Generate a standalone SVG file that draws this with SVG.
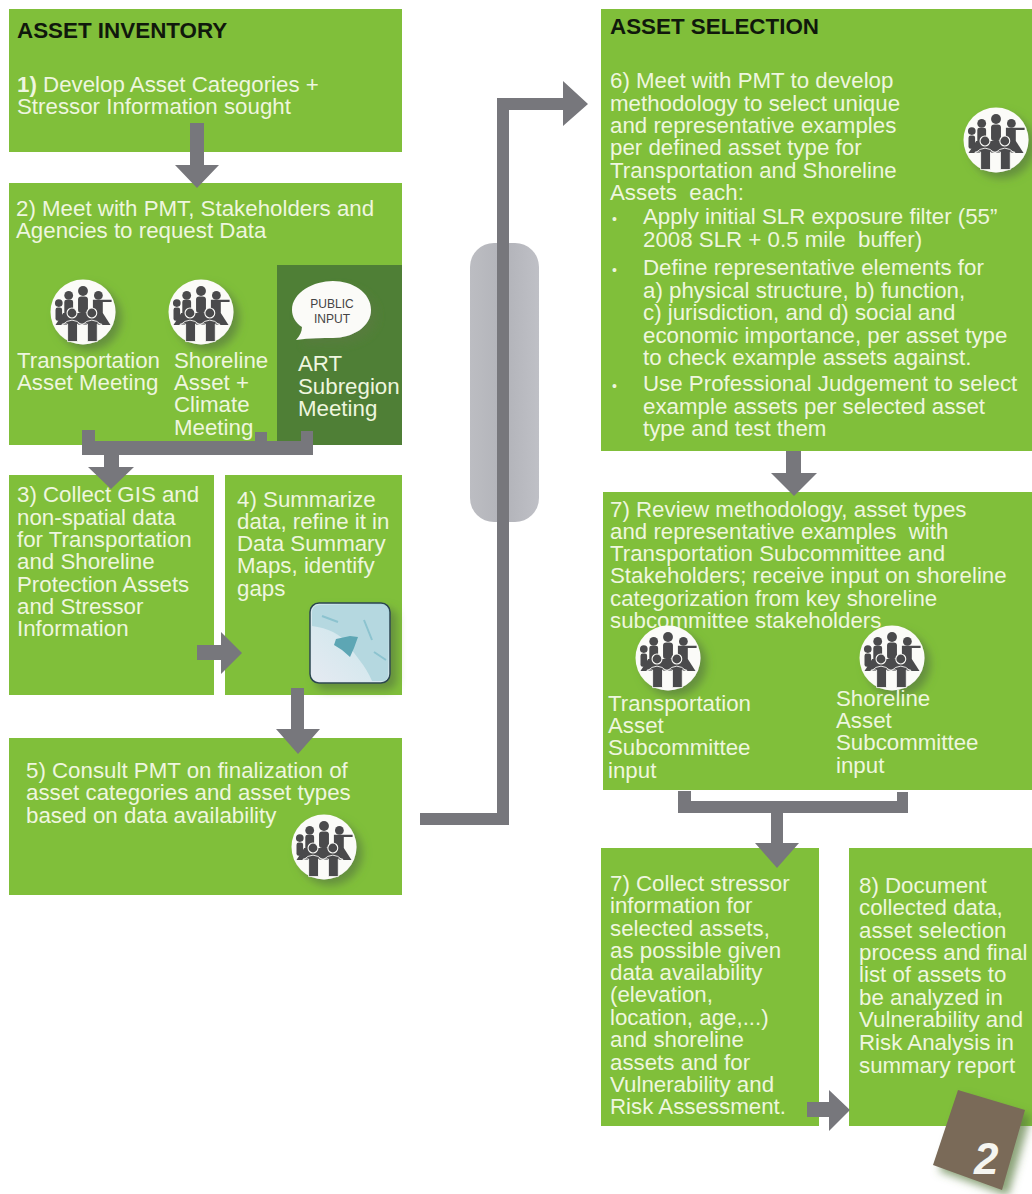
<svg xmlns="http://www.w3.org/2000/svg" xmlns:xlink="http://www.w3.org/1999/xlink" width="1032" height="1194" viewBox="0 0 1032 1194">
<style>
.box{fill:#80bf3a}
.t{font-family:"Liberation Sans",Arial,sans-serif;font-size:22.3px;fill:#eef6df}
.h{font-family:"Liberation Sans",Arial,sans-serif;font-size:22.4px;font-weight:bold;fill:#10180c}
.b{font-size:14px}
.c{fill:#77777c}
.ic{fill:#4a4a4c}
</style>
<defs>
<linearGradient id="pill" x1="0" x2="1" y1="0" y2="0"><stop offset="0" stop-color="#bcbdc2"/><stop offset="0.5" stop-color="#b2b3b9"/><stop offset="1" stop-color="#bfc0c6"/></linearGradient>
<linearGradient id="map" x1="0" x2="1" y1="1" y2="0"><stop offset="0" stop-color="#e6eaf2"/><stop offset="0.45" stop-color="#d6e8ee"/><stop offset="1" stop-color="#a9d2dc"/></linearGradient>
<filter id="sh" x="-40%" y="-40%" width="200%" height="200%"><feGaussianBlur in="SourceAlpha" stdDeviation="4.5"/><feOffset dx="6" dy="6"/><feColorMatrix values="0 0 0 0 0.1 0 0 0 0 0.2 0 0 0 0 0.05 0 0 0 0.7 0"/><feMerge><feMergeNode/><feMergeNode in="SourceGraphic"/></feMerge></filter>
<g id="meet">
<circle r="32.500" fill="#fbfbf8" filter="url(#sh)"/>
<g class="ic" transform="translate(0 1) scale(1.1)">
<circle cx="0" cy="-20" r="4.5"/><rect x="-4.5" y="-15" width="9" height="15" rx="3"/>
<circle cx="-13" cy="-16" r="4"/><rect x="-17" y="-12" width="8" height="14" rx="2"/>
<circle cx="14" cy="-16" r="4"/><path d="M9-12h17v2h-8v14H9z"/>
<circle cx="-22" cy="-9" r="3.500"/><rect x="-25" y="-5" width="6" height="12" rx="2"/>
<path d="M-18 0H18L25 11H-25z"/>
<circle cx="-10" cy="0" r="4.500" stroke="#fbfbf8" stroke-width="1"/><path d="M-19 11Q-10 2-1 11V10H-5V26H-14V10H-19z" stroke="#fbfbf8" stroke-width=".8"/>
<circle cx="8" cy="0" r="4.500" stroke="#fbfbf8" stroke-width="1"/><path d="M-1 11Q8 2 17 11V10H13V26H4V10H-1z" stroke="#fbfbf8" stroke-width=".8"/>
</g>
</g>
</defs>

<g id="n1"><rect class="box" x="9" y="9" width="393" height="143"/>
<text class="h" x="17" y="38">ASSET INVENTORY</text>
<text class="t"><tspan x="17" y="92" font-weight="bold">1)</tspan><tspan> Develop Asset Categories +</tspan><tspan x="17" y="114">Stressor Information sought</tspan></text></g>

<g id="n2"><rect class="box" x="9" y="183" width="393" height="262"/>
<rect x="277" y="265" width="125" height="180" fill="#4f7f36"/>
<text class="t"><tspan x="16" y="216">2) Meet with PMT, Stakeholders and</tspan><tspan x="16" y="238">Agencies to request Data</tspan></text>
<use href="#meet" xlink:href="#meet" x="83" y="312"/>
<use href="#meet" xlink:href="#meet" x="201" y="312"/>
<text class="t"><tspan x="17" y="368">Transportation</tspan><tspan x="17" y="390">Asset Meeting</tspan></text>
<text class="t"><tspan x="174" y="368">Shoreline</tspan><tspan x="174" y="390">Asset +</tspan><tspan x="174" y="412">Climate</tspan><tspan x="174" y="435">Meeting</tspan></text>
<path d="M333 281C352 281 371 292 371 310C371 327 352 338 333 338C322 338 310 338 296 340C300 336 302 331 302 327C296 323 292 317 292 310C292 292 314 281 333 281Z" fill="#fbfbf8" filter="url(#sh)"/>
<text font-family="Liberation Sans,Arial,sans-serif" font-size="12" fill="#444" text-anchor="middle"><tspan x="332" y="308">PUBLIC</tspan><tspan x="332" y="323">INPUT</tspan></text>
<text class="t"><tspan x="298" y="371">ART</tspan><tspan x="298" y="394">Subregion</tspan><tspan x="298" y="416">Meeting</tspan></text></g>

<g id="n3"><rect class="box" x="9" y="475" width="205" height="220"/>
<text class="t"><tspan x="17" y="502">3) Collect GIS and</tspan><tspan x="17" y="525">non-spatial data</tspan><tspan x="17" y="547">for Transportation</tspan><tspan x="17" y="569">and Shoreline</tspan><tspan x="17" y="592">Protection Assets</tspan><tspan x="17" y="614">and Stressor</tspan><tspan x="17" y="636">Information</tspan></text></g>

<g id="n4"><rect class="box" x="225" y="475" width="177" height="220"/>
<text class="t"><tspan x="237" y="507">4) Summarize</tspan><tspan x="237" y="529">data, refine it in</tspan><tspan x="237" y="551">Data Summary</tspan><tspan x="237" y="573">Maps, identify</tspan><tspan x="237" y="596">gaps</tspan></text>
<rect x="310" y="603" width="80" height="80" rx="9" fill="url(#map)" stroke="#2c4650" stroke-width="1.5" filter="url(#sh)"/>
<path d="M312 626C328 628 340 634 348 644C354 654 366 666 372 681H382Q388 681 388 675V611Q388 605 382 605H320Q312 605 312 613Z" fill="#b5d8e0"/>
<path d="M336 639L350 636L358 637L354 648L350 657L342 650L334 645Z" fill="#5da6b4"/>
<path d="M322 616L338 622M364 620L372 640M374 652L386 660" stroke="#8cc3cf" stroke-width="2" fill="none"/></g>

<g id="n5"><rect class="box" x="9" y="738" width="393" height="157"/>
<text class="t"><tspan x="26" y="778">5) Consult PMT on finalization of</tspan><tspan x="26" y="800">asset categories and asset types</tspan><tspan x="26" y="823">based on data availability</tspan></text>
<use href="#meet" xlink:href="#meet" x="324" y="847"/></g>

<g id="n6"><rect class="box" x="601" y="9" width="431" height="442"/>
<text class="h" x="610" y="34">ASSET SELECTION</text>
<text class="t"><tspan x="610" y="88">6) Meet with PMT to develop</tspan><tspan x="610" y="111">methodology to select unique</tspan><tspan x="610" y="133">and representative examples</tspan><tspan x="610" y="155">per defined asset type for</tspan><tspan x="610" y="178">Transportation and Shoreline</tspan><tspan x="610" y="200">Assets&#160; each:</tspan><tspan x="612" y="224" class="b">•</tspan><tspan x="643" y="224">Apply initial SLR exposure filter (55”</tspan><tspan x="643" y="247">2008 SLR + 0.5 mile&#160; buffer)</tspan><tspan x="612" y="275" class="b">•</tspan><tspan x="643" y="275">Define representative elements for</tspan><tspan x="643" y="298">a) physical structure, b) function,</tspan><tspan x="643" y="320">c) jurisdiction, and d) social and</tspan><tspan x="643" y="343">economic importance, per asset type</tspan><tspan x="643" y="365">to check example assets against.</tspan><tspan x="612" y="391" class="b">•</tspan><tspan x="643" y="391">Use Professional Judgement to select</tspan><tspan x="643" y="414">example assets per selected asset</tspan><tspan x="643" y="436">type and test them</tspan></text>
<use href="#meet" xlink:href="#meet" x="996" y="140"/></g>

<g id="n7"><rect class="box" x="603" y="492" width="429" height="298"/>
<text class="t"><tspan x="610" y="517">7) Review methodology, asset types</tspan><tspan x="610" y="539">and representative examples&#160; with</tspan><tspan x="610" y="561">Transportation Subcommittee and</tspan><tspan x="610" y="583">Stakeholders; receive input on shoreline</tspan><tspan x="610" y="606">categorization from key shoreline</tspan><tspan x="610" y="628">subcommittee stakeholders</tspan></text>
<use href="#meet" xlink:href="#meet" x="668" y="658"/>
<use href="#meet" xlink:href="#meet" x="892" y="658"/>
<text class="t"><tspan x="608" y="711">Transportation</tspan><tspan x="608" y="733">Asset</tspan><tspan x="608" y="755">Subcommittee</tspan><tspan x="608" y="778">input</tspan></text>
<text class="t"><tspan x="836" y="706">Shoreline</tspan><tspan x="836" y="728">Asset</tspan><tspan x="836" y="750">Subcommittee</tspan><tspan x="836" y="773">input</tspan></text></g>

<g id="n8"><rect class="box" x="601" y="848" width="218" height="278"/>
<text class="t"><tspan x="610" y="891">7) Collect stressor</tspan><tspan x="610" y="913">information for</tspan><tspan x="610" y="936">selected assets,</tspan><tspan x="610" y="958">as possible given</tspan><tspan x="610" y="980">data availability</tspan><tspan x="610" y="1002">(elevation,</tspan><tspan x="610" y="1025">location, age,...)</tspan><tspan x="610" y="1047">and shoreline</tspan><tspan x="610" y="1070">assets and for</tspan><tspan x="610" y="1092">Vulnerability and</tspan><tspan x="610" y="1114">Risk Assessment.</tspan></text></g>

<g id="n9"><rect class="box" x="849" y="848" width="183" height="278"/>
<text class="t"><tspan x="859" y="893">8) Document</tspan><tspan x="859" y="915">collected data,</tspan><tspan x="859" y="938">asset selection</tspan><tspan x="859" y="960">process and final</tspan><tspan x="859" y="982">list of assets to</tspan><tspan x="859" y="1005">be analyzed in</tspan><tspan x="859" y="1027">Vulnerability and</tspan><tspan x="859" y="1050">Risk Analysis in</tspan><tspan x="859" y="1073">summary report</tspan></text></g>

<g id="badge"><path d="M958 1090L1025 1110L1002 1190L933 1165Z" fill="#7a6a58" filter="url(#sh)"/>
<text x="974" y="1174" font-family="Liberation Sans,Arial,sans-serif" font-size="44" font-weight="bold" font-style="italic" fill="#f5f5f0">2</text></g>

<g id="pill-bar"><rect x="470" y="243" width="69" height="279" rx="24" fill="url(#pill)"/></g>

<g id="connectors" class="c">
<path d="M190 123H204V165H219L197 188L175 165H190Z"/>
<path d="M82 430H95V441H255V432H267V441H301V431H313V455H119V467H134L111 489L88 467H104V455H82Z"/>
<path d="M197 645H221V632L242 653L221 674V660H197Z"/>
<path d="M291 688H304V729H320L298 754L276 729H291Z"/>
<path d="M420 813H497V98H563V81L588 104L563 126V110H509V825H420Z"/>
<path d="M786 451H801V473H817L794 496L771 473H786Z"/>
<path d="M678 791H691V801H897V792H908V813H783V843H799L777 868L755 843H771V813H678Z"/>
<path d="M807 1102H829V1090L850 1110L829 1131V1117H807Z"/>
</g>
</svg>
